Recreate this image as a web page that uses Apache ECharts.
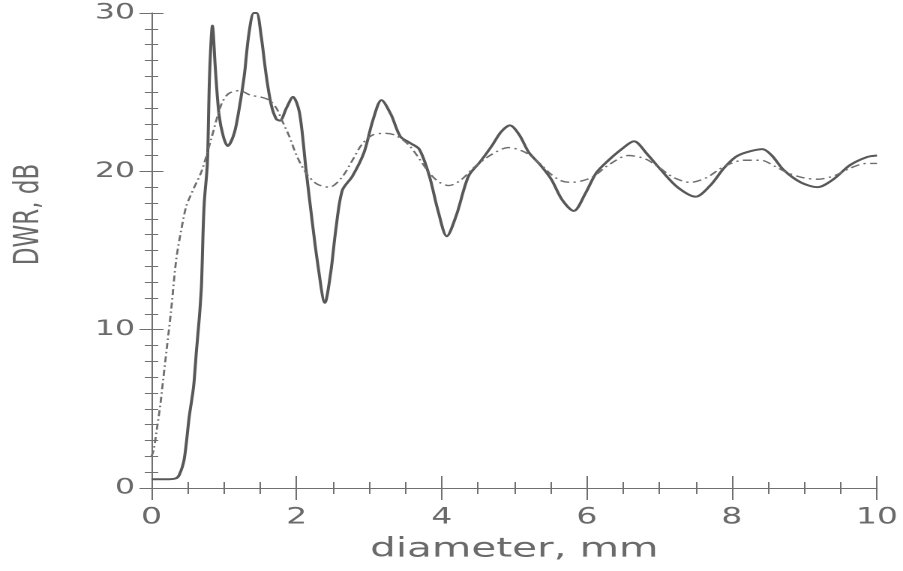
<!DOCTYPE html>
<html>
<head>
<meta charset="utf-8">
<script src="https://cdn.jsdelivr.net/npm/echarts@6/dist/echarts.min.js"></script>
<style>
  html, body { margin: 0; padding: 0; background: #fff; overflow: hidden; }
  #wrap { width: 903px; height: 571px; overflow: hidden; }
  #chart { height: 571px; transform-origin: 0 0; }
</style>
</head>
<body>
<div id="wrap"><div id="chart"></div></div>
<script>
// DWR (dB) versus particle diameter (mm): solid and dash-dot curves
const solidX = [0.00, 0.20, 0.33, 0.38, 0.45, 0.52, 0.58, 0.62, 0.66, 0.69, 0.71, 0.73, 0.77, 0.80, 0.84, 0.88, 0.93, 0.99, 1.05, 1.14,
  1.21, 1.28, 1.34, 1.41, 1.45, 1.51, 1.58, 1.65, 1.72, 1.77, 1.86, 1.95, 2.04, 2.13, 2.20, 2.29, 2.39, 2.47, 2.54, 2.63,
  2.77, 2.93, 3.05, 3.17, 3.30, 3.43, 3.56, 3.69, 3.83, 3.95, 4.07, 4.20, 4.37, 4.53, 4.69, 4.82, 4.94, 5.07, 5.20, 5.36,
  5.51, 5.66, 5.82, 5.98, 6.13, 6.30, 6.48, 6.65, 6.83, 7.02, 7.25, 7.50, 7.70, 7.89, 8.05, 8.20, 8.42, 8.55, 8.71, 8.95,
  9.18, 9.40, 9.63, 9.86, 10.00];
const solidY = [0.55, 0.55, 0.6, 0.8, 1.8, 4.5, 6.4, 8.7, 10.8, 12.9, 16.1, 18.2, 20.5, 26.0, 29.2, 26.5, 23.6, 22.2, 21.6, 22.4,
  24.0, 26.1, 28.6, 30.0, 30.0, 28.6, 26.1, 24.2, 23.3, 23.2, 24.0, 24.7, 23.7, 20.1, 17.4, 14.2, 11.7, 13.6, 16.3, 18.8,
  19.7, 21.2, 23.2, 24.5, 23.6, 22.2, 21.8, 21.4, 19.7, 17.5, 15.9, 17.2, 19.7, 20.6, 21.6, 22.5, 22.9, 22.3, 21.2, 20.4,
  19.5, 18.2, 17.5, 18.6, 19.9, 20.7, 21.4, 21.9, 21.1, 20.1, 19.0, 18.4, 19.1, 20.2, 20.9, 21.2, 21.4, 21.0, 20.1, 19.3,
  19.0, 19.5, 20.4, 20.9, 21.0];

const dashX = [0.00, 0.03, 0.07, 0.12, 0.16, 0.21, 0.27, 0.34, 0.41, 0.48, 0.58, 0.69, 0.82, 0.96, 1.06, 1.21, 1.37, 1.50, 1.62, 1.72,
  1.80, 1.90, 2.00, 2.13, 2.28, 2.45, 2.62, 2.77, 2.90, 3.05, 3.22, 3.35, 3.46, 3.56, 3.66, 3.83, 3.97, 4.10, 4.25, 4.46,
  4.70, 4.92, 5.15, 5.35, 5.51, 5.65, 5.79, 6.06, 6.30, 6.57, 6.80, 6.98, 7.20, 7.43, 7.65, 7.89, 8.16, 8.40, 8.60, 8.77,
  8.98, 9.18, 9.40, 9.63, 9.85, 10.00];
const dashY = [2.0, 2.4, 3.6, 5.2, 6.8, 8.8, 11.2, 14.4, 16.3, 17.8, 18.9, 20.0, 22.0, 24.2, 24.9, 25.1, 24.8, 24.7, 24.5, 24.0,
  23.2, 22.2, 21.0, 19.9, 19.2, 19.0, 19.6, 20.7, 21.7, 22.3, 22.4, 22.3, 22.0, 21.6, 21.0, 19.9, 19.3, 19.1, 19.4, 20.3,
  21.1, 21.5, 21.2, 20.5, 19.8, 19.4, 19.3, 19.6, 20.4, 21.0, 20.8, 20.3, 19.6, 19.3, 19.6, 20.3, 20.7, 20.7, 20.3, 19.9,
  19.6, 19.5, 19.7, 20.2, 20.5, 20.5];

const xTicks = { min: 0, max: 10, interval: 2 };
const yTicks = { min: 0, max: 30, interval: 10 };
const xTitle = 'diameter, mm';
const yTitle = 'DWR, dB';

// The figure is drawn narrow and widened horizontally, like the printed plot
const STRETCH = 1.5;
const W = 903 / STRETCH;
const el = document.getElementById('chart');
el.style.width = W + 'px';
el.style.transform = 'scaleX(' + STRETCH + ')';

const zip = (xs, ys) => xs.map((x, i) => [x, ys[i]]);

const AXIS_COLOR = '#707070';
const LABEL_COLOR = '#6a6a6a';
const FONT = '"DejaVu Sans ExtraLight", "DejaVu Sans"';

function frameAxis(base, extra) {
  return Object.assign({
    type: 'value',
    min: base.min, max: base.max, interval: base.interval,
    axisLine: { show: true, lineStyle: { color: AXIS_COLOR, width: 1 } },
    splitLine: { show: false },
  }, extra);
}

const chart = echarts.init(el, null, { devicePixelRatio: 2 });
chart.setOption({
  animation: false,
  backgroundColor: '#fff',
  grid: { left: 148 / STRETCH, right: 26 / STRETCH, top: 13, bottom: 83, containLabel: false },
  xAxis: [
    frameAxis(xTicks, {
      position: 'bottom',
      name: xTitle, nameLocation: 'middle', nameGap: 48,
      nameTextStyle: { fontFamily: FONT, fontSize: 27, color: LABEL_COLOR },
      axisTick: { inside: true, length: 12, lineStyle: { color: AXIS_COLOR } },
      minorTick: { show: true, splitNumber: 4, length: 6, lineStyle: { color: AXIS_COLOR } },
      axisLabel: { margin: 19, fontFamily: FONT, fontSize: 22, color: LABEL_COLOR },
    }),
    frameAxis(xTicks, {
      position: 'top',
      axisTick: { inside: true, length: 12, lineStyle: { color: AXIS_COLOR } },
      minorTick: { show: true, splitNumber: 4, length: 6, lineStyle: { color: AXIS_COLOR } },
      axisLabel: { show: false },
    }),
  ],
  yAxis: [
    frameAxis(yTicks, {
      position: 'left',
      name: yTitle, nameLocation: 'middle', nameGap: 70,
      nameTextStyle: { fontFamily: FONT, fontSize: 23, color: LABEL_COLOR, padding: [0, 0, 0, 72] },
      axisTick: { inside: true, length: 8, lineStyle: { color: AXIS_COLOR } },
      minorTick: { show: true, splitNumber: 10, length: 4.5, lineStyle: { color: AXIS_COLOR } },
      axisLabel: { margin: 11, fontFamily: FONT, fontSize: 21, color: LABEL_COLOR },
    }),
    frameAxis(yTicks, {
      position: 'right',
      axisTick: { inside: true, length: 8, lineStyle: { color: AXIS_COLOR } },
      minorTick: { show: true, splitNumber: 10, length: 4.5, lineStyle: { color: AXIS_COLOR } },
      axisLabel: { show: false },
    }),
  ],
  series: [
    {
      name: 'solid', type: 'line', xAxisIndex: 0, yAxisIndex: 0,
      data: zip(solidX, solidY),
      smooth: 0.3, showSymbol: false, silent: true,
      lineStyle: { color: '#585858', width: 2 },
    },
    {
      name: 'dash-dot', type: 'line', xAxisIndex: 0, yAxisIndex: 0,
      data: zip(dashX, dashY),
      smooth: 0.3, showSymbol: false, silent: true,
      lineStyle: { color: '#6e6e6e', width: 1.4, type: [6, 3, 1.5, 3] },
    },
  ],
});
</script>
</body>
</html>
